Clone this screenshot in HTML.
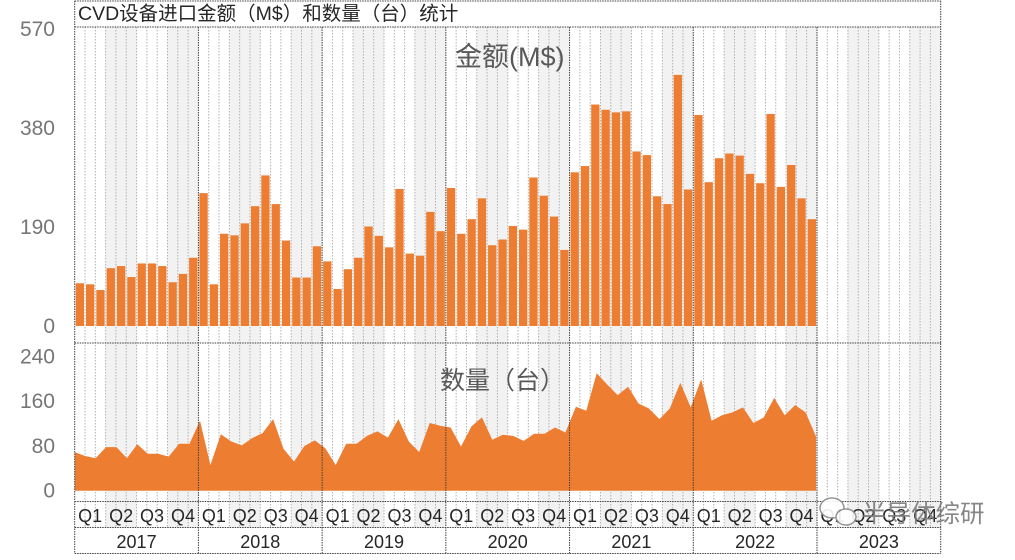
<!DOCTYPE html>
<html><head><meta charset="utf-8">
<style>
html,body{margin:0;padding:0;background:#fff;}
body{width:1015px;height:555px;overflow:hidden;font-family:"Liberation Sans","Noto Sans CJK SC",sans-serif;}
svg text{font-family:"Liberation Sans","Noto Sans CJK SC",sans-serif;}
</style></head>
<body>
<svg id="chart" width="1015" height="555" viewBox="0 0 1015 555" xmlns="http://www.w3.org/2000/svg"></svg>
<script>
const years = ['2017','2018','2019','2020','2021','2022','2023'];
const quarters = ['Q1','Q2','Q3','Q4'];
const amountTicks = [0,190,380,570];
const countTicks = [0,80,160,240];
const amountValues = [82,80,69,111,115,94,120,120,115,84,100,131,
 255,80,177,174,197,230,289,234,164,93,93,153,
 124,71,109,131,191,173,151,263,139,135,219,182,
 265,177,205,245,155,166,192,185,285,250,210,146,
 295,307,425,415,410,412,335,328,249,234,482,262,
 405,276,322,331,327,292,274,407,267,309,245,205];
const countValues = [69,62,58,78,78,58,83,66,66,61,84,84,
 125,46,101,88,81,94,103,128,75,52,80,90,
 76,46,84,84,98,106,95,128,88,69,121,116,
 113,79,115,131,91,100,98,89,102,102,113,104,
 150,143,210,190,171,186,156,147,128,147,193,149,
 199,125,135,140,149,121,131,166,135,153,140,97];

const svg = document.getElementById('chart');
const NS = 'http://www.w3.org/2000/svg';
function mk(tag, attrs, parent){const e=document.createElementNS(NS,tag);for(const k in attrs)e.setAttribute(k,attrs[k]);(parent||svg).appendChild(e);return e;}

const X0=74.7, X1=940.7, MW=(X1-X0)/84;
const TOP=27, SEP=343, QROW=501.5, YROW=527.5, BOT=553.5;
const aBase=326, aTop=29, cBase=490.7, cTop=356.5, cEnd=816;
function ya(v){return aBase-(v/570)*(aBase-aTop);}
function yc(v){return cBase-(v/240)*(cBase-cTop);}
function xm(i){return X0+i*MW;}
function xc(i){return X0+i*(cEnd-X0)/(countValues.length-1);}

for(let y=0;y<years.length;y++){for(let q=1;q<4;q+=2){
  const r=mk('rect',{x:xm(y*12+q*3),y:TOP,width:MW*3,height:YROW-TOP,fill:'#f2f2f2'});
  
  
}}
for(let i=1;i<84;i++){ if(i%12===0) continue;
  mk('line',{x1:xm(i),x2:xm(i),y1:TOP,y2:YROW,stroke:'#b0b0b0','stroke-width':1,'stroke-dasharray':'1.5,1.5'});
}
amountValues.forEach((v,i)=>{
  const b=mk('rect',{x:xm(i)+1,y:ya(v),width:MW-2,height:aBase-ya(v),fill:'#ED7D31'});
  
  
});
let d='M'+xc(0)+','+cBase;
countValues.forEach((v,i)=>{d+=' L'+xc(i).toFixed(1)+','+yc(v).toFixed(1);});
d+=' L'+xc(countValues.length-1)+','+cBase+' Z';
const ar=mk('path',{d:d,fill:'#ED7D31'});



const dk={stroke:'#404040','stroke-width':1,'stroke-dasharray':'1.5,1'};
[1,TOP,SEP,QROW,YROW,BOT].forEach(y=>mk('line',Object.assign({x1:X0,x2:X1,y1:y,y2:y},dk)));
for(let y=0;y<=7;y++){const x=xm(y*12);mk('line',Object.assign({x1:x,x2:x,y1:(y===0||y===7)?1:TOP,y2:BOT},dk));}

const t=mk('text',{x:78,y:20,'font-size':19.5,fill:'#262626'});t.textContent='CVD设备进口金额（M$）和数量（台）统计';

const p1=mk('text',{x:455,y:66,'font-size':27,fill:'#595959'});p1.textContent='金额(M$)';

const p2=mk('text',{x:440,y:389,'font-size':25,fill:'#595959'});p2.textContent='数量（台）';


amountTicks.forEach(v=>{const e=mk('text',{x:55,y:ya(v)+7,'text-anchor':'end','font-size':21,fill:'#767676'});e.textContent=v;
  });
countTicks.forEach(v=>{const e=mk('text',{x:55,y:yc(v)+7,'text-anchor':'end','font-size':21,fill:'#767676'});e.textContent=v;
  });

years.forEach((yr,y)=>{
  quarters.forEach((q,qi)=>{const e=mk('text',{x:xm(y*12+qi*3)+MW*1.5,y:522,'text-anchor':'middle','font-size':18,fill:'#262626'});e.textContent=q;
    });
  const e=mk('text',{x:xm(y*12)+MW*6,y:548,'text-anchor':'middle','font-size':18,fill:'#262626'});e.textContent=yr;
  
});

const wm=mk('g',{opacity:0.9});

mk('ellipse',{cx:832,cy:508,rx:12,ry:10,fill:'#fff',stroke:'#8a8a8a','stroke-width':1.5},wm);
mk('ellipse',{cx:846,cy:517,rx:10,ry:8,fill:'#fff',stroke:'#8a8a8a','stroke-width':1.5},wm);
const wt=mk('text',{x:862,y:522,'font-size':24.5,fill:'#7a7a7a'},wm);wt.textContent='半导体综研';
</script>
</body></html>
